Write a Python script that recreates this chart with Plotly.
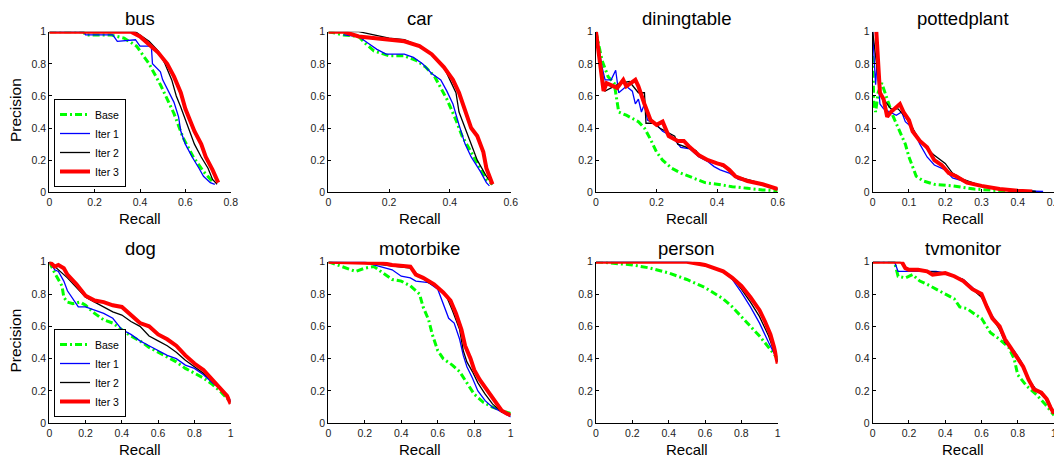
import plotly.graph_objects as go

# ---------------- data (recall, precision) points ----------------
classes = ["bus", "car", "diningtable", "pottedplant", "dog", "motorbike", "person", "tvmonitor"]
series_names = ["Base", "Iter 1", "Iter 2", "Iter 3"]
x_max = [0.8, 0.6, 0.6, 0.5, 1.0, 1.0, 1.0, 1.0]
x_ticks = [
    [0, 0.2, 0.4, 0.6, 0.8],
    [0, 0.2, 0.4, 0.6],
    [0, 0.2, 0.4, 0.6],
    [0, 0.1, 0.2, 0.3, 0.4, 0.5],
    [0, 0.2, 0.4, 0.6, 0.8, 1],
    [0, 0.2, 0.4, 0.6, 0.8, 1],
    [0, 0.2, 0.4, 0.6, 0.8, 1],
    [0, 0.2, 0.4, 0.6, 0.8, 1],
]
y_ticks = [0, 0.2, 0.4, 0.6, 0.8, 1]

bus_base = [(0, 1), (0.15, 1), (0.16, 0.98), (0.27, 0.98), (0.33, 0.96), (0.385, 0.91), (0.44, 0.80),
            (0.49, 0.67), (0.55, 0.49), (0.59, 0.34), (0.635, 0.22), (0.68, 0.13), (0.72, 0.066)]
bus_iter1 = [(0, 1), (0.15, 1), (0.16, 0.98), (0.28, 0.98), (0.30, 0.94), (0.38, 0.95), (0.40, 0.91),
             (0.45, 0.91), (0.455, 0.80), (0.49, 0.75), (0.50, 0.70), (0.53, 0.62), (0.55, 0.56),
             (0.57, 0.47), (0.58, 0.38), (0.60, 0.30), (0.63, 0.22), (0.66, 0.15), (0.68, 0.10),
             (0.71, 0.06), (0.73, 0.05)]
bus_iter2 = [(0, 1), (0.38, 1), (0.40, 0.98), (0.44, 0.94), (0.48, 0.88), (0.51, 0.80), (0.54, 0.70),
             (0.56, 0.60), (0.58, 0.53), (0.60, 0.45), (0.62, 0.38), (0.64, 0.30), (0.67, 0.22),
             (0.70, 0.15), (0.72, 0.08), (0.74, 0.05)]
bus_iter3 = [(0, 1), (0.36, 1), (0.40, 0.97), (0.44, 0.92), (0.48, 0.87), (0.52, 0.80), (0.55, 0.72),
             (0.58, 0.62), (0.60, 0.52), (0.62, 0.45), (0.64, 0.38), (0.67, 0.30), (0.69, 0.22),
             (0.72, 0.14), (0.745, 0.06)]

car_base = [(0, 1), (0.05, 0.98), (0.10, 0.97), (0.12, 0.93), (0.15, 0.88), (0.20, 0.85), (0.25, 0.85),
            (0.29, 0.82), (0.32, 0.78), (0.35, 0.72), (0.37, 0.65), (0.39, 0.58), (0.42, 0.45),
            (0.44, 0.35), (0.47, 0.25), (0.50, 0.15), (0.52, 0.08), (0.54, 0.05)]
car_iter1 = [(0.05, 0.98), (0.10, 0.97), (0.13, 0.93), (0.16, 0.89), (0.19, 0.86), (0.25, 0.86),
             (0.28, 0.84), (0.31, 0.80), (0.34, 0.74), (0.37, 0.70), (0.39, 0.63), (0.41, 0.55),
             (0.43, 0.42), (0.45, 0.30), (0.47, 0.22), (0.50, 0.13), (0.52, 0.06), (0.53, 0.04)]
car_iter2 = [(0, 1), (0.10, 1), (0.15, 0.98), (0.20, 0.96), (0.25, 0.95), (0.30, 0.91), (0.34, 0.86),
             (0.38, 0.78), (0.40, 0.70), (0.42, 0.62), (0.43, 0.50), (0.45, 0.40), (0.47, 0.30),
             (0.49, 0.20), (0.52, 0.10), (0.54, 0.05)]
car_iter3 = [(0, 1), (0.05, 1), (0.10, 0.97), (0.20, 0.95), (0.25, 0.94), (0.30, 0.91), (0.34, 0.86),
             (0.38, 0.78), (0.41, 0.70), (0.43, 0.62), (0.44, 0.56), (0.45, 0.50), (0.47, 0.40),
             (0.49, 0.35), (0.51, 0.25), (0.52, 0.15), (0.54, 0.05)]

diningtable_base = [(0, 1), (0.02, 0.82), (0.04, 0.72), (0.06, 0.68), (0.075, 0.50), (0.10, 0.48),
                    (0.14, 0.44), (0.16, 0.40), (0.18, 0.33), (0.20, 0.25), (0.22, 0.20), (0.25, 0.15),
                    (0.28, 0.12), (0.32, 0.09), (0.36, 0.06), (0.40, 0.05), (0.45, 0.035),
                    (0.50, 0.025), (0.55, 0.015), (0.60, 0.01)]
diningtable_iter1 = [(0, 1), (0.02, 0.78), (0.03, 0.70), (0.05, 0.70), (0.065, 0.76), (0.075, 0.62),
                     (0.10, 0.66), (0.12, 0.63), (0.13, 0.55), (0.14, 0.58), (0.15, 0.50), (0.16, 0.55),
                     (0.17, 0.45), (0.20, 0.42), (0.22, 0.38), (0.25, 0.35), (0.28, 0.28), (0.31, 0.27),
                     (0.34, 0.22), (0.37, 0.19), (0.39, 0.16), (0.41, 0.14), (0.44, 0.12), (0.47, 0.08),
                     (0.52, 0.06), (0.60, 0.02)]
diningtable_iter2 = [(0, 1), (0.02, 0.75), (0.03, 0.63), (0.05, 0.65), (0.08, 0.68), (0.11, 0.69),
                     (0.14, 0.62), (0.16, 0.62), (0.165, 0.43), (0.19, 0.43), (0.21, 0.40), (0.23, 0.38),
                     (0.26, 0.35), (0.27, 0.30), (0.30, 0.28), (0.33, 0.26), (0.34, 0.23), (0.37, 0.20),
                     (0.40, 0.18), (0.43, 0.15), (0.46, 0.10), (0.52, 0.07), (0.60, 0.02)]
diningtable_iter3 = [(0, 1), (0.025, 0.63), (0.035, 0.68), (0.07, 0.65), (0.09, 0.70), (0.10, 0.66),
                     (0.13, 0.70), (0.14, 0.66), (0.16, 0.55), (0.18, 0.45), (0.20, 0.42), (0.22, 0.44),
                     (0.24, 0.35), (0.27, 0.32), (0.29, 0.32), (0.31, 0.28), (0.34, 0.23), (0.37, 0.20),
                     (0.40, 0.18), (0.42, 0.17), (0.44, 0.14), (0.46, 0.10), (0.50, 0.07), (0.55, 0.05),
                     (0.60, 0.02)]

pottedplant_base = [(0, 0.85), (0.003, 0.55), (0.008, 0.50), (0.015, 0.62), (0.025, 0.68), (0.03, 0.65),
                    (0.04, 0.58), (0.055, 0.48), (0.07, 0.40), (0.09, 0.30), (0.10, 0.22), (0.11, 0.16),
                    (0.12, 0.10), (0.14, 0.07), (0.17, 0.05), (0.22, 0.04), (0.28, 0.02), (0.35, 0.01),
                    (0.45, 0.0)]
pottedplant_iter1 = [(0, 1), (0.008, 0.67), (0.012, 0.80), (0.02, 0.55), (0.03, 0.52), (0.05, 0.50),
                     (0.065, 0.48), (0.08, 0.50), (0.09, 0.44), (0.11, 0.40), (0.13, 0.30), (0.15, 0.22),
                     (0.17, 0.17), (0.20, 0.14), (0.22, 0.09), (0.25, 0.07), (0.30, 0.04), (0.35, 0.02),
                     (0.40, 0.01), (0.47, 0.005)]
pottedplant_iter2 = [(0, 1), (0.01, 0.80), (0.02, 0.62), (0.03, 0.58), (0.05, 0.52), (0.07, 0.52),
                     (0.09, 0.47), (0.11, 0.40), (0.13, 0.32), (0.15, 0.27), (0.17, 0.23), (0.20, 0.18),
                     (0.22, 0.12), (0.25, 0.08), (0.30, 0.04), (0.35, 0.02), (0.45, 0.005)]
pottedplant_iter3 = [(0.01, 1.0), (0.02, 0.62), (0.03, 0.58), (0.04, 0.47), (0.05, 0.50), (0.065, 0.53),
                     (0.075, 0.55), (0.085, 0.50), (0.10, 0.45), (0.11, 0.38), (0.13, 0.32), (0.15, 0.28),
                     (0.17, 0.20), (0.19, 0.17), (0.21, 0.12), (0.23, 0.10), (0.26, 0.06), (0.30, 0.04),
                     (0.35, 0.02), (0.40, 0.01), (0.44, 0.005)]

dog_base = [(0, 1), (0.03, 0.93), (0.07, 0.85), (0.08, 0.78), (0.10, 0.75), (0.13, 0.74), (0.17, 0.75),
            (0.20, 0.73), (0.25, 0.68), (0.30, 0.64), (0.35, 0.62), (0.40, 0.58), (0.45, 0.54),
            (0.50, 0.51), (0.55, 0.47), (0.60, 0.44), (0.65, 0.41), (0.70, 0.38), (0.75, 0.34),
            (0.80, 0.31), (0.85, 0.28), (0.90, 0.24), (0.95, 0.19), (1.0, 0.13)]
dog_iter1 = [(0, 1), (0.03, 0.95), (0.05, 0.94), (0.08, 0.88), (0.10, 0.82), (0.13, 0.77), (0.16, 0.72),
             (0.20, 0.72), (0.25, 0.70), (0.30, 0.68), (0.35, 0.65), (0.40, 0.58), (0.45, 0.55),
             (0.50, 0.51), (0.55, 0.48), (0.60, 0.45), (0.65, 0.42), (0.70, 0.40), (0.75, 0.36),
             (0.80, 0.34), (0.85, 0.30), (0.90, 0.25), (0.95, 0.21), (1.0, 0.14)]
dog_iter2 = [(0, 1), (0.05, 0.95), (0.10, 0.90), (0.15, 0.84), (0.20, 0.78), (0.25, 0.75), (0.30, 0.72),
             (0.35, 0.69), (0.40, 0.67), (0.45, 0.63), (0.50, 0.60), (0.55, 0.54), (0.60, 0.51),
             (0.65, 0.48), (0.70, 0.44), (0.75, 0.39), (0.80, 0.35), (0.85, 0.31), (0.90, 0.26),
             (0.95, 0.21), (1.0, 0.13)]
dog_iter3 = [(0, 1), (0.03, 0.97), (0.05, 0.98), (0.08, 0.96), (0.10, 0.92), (0.15, 0.86), (0.20, 0.79),
             (0.25, 0.76), (0.30, 0.75), (0.35, 0.73), (0.40, 0.72), (0.45, 0.67), (0.50, 0.62),
             (0.55, 0.60), (0.60, 0.55), (0.65, 0.52), (0.70, 0.48), (0.75, 0.42), (0.80, 0.37),
             (0.85, 0.33), (0.90, 0.27), (0.95, 0.21), (0.98, 0.17), (1.0, 0.12)]

motorbike_base = [(0, 1), (0.05, 0.98), (0.10, 0.96), (0.15, 0.94), (0.20, 0.96), (0.25, 0.97),
                  (0.30, 0.93), (0.35, 0.89), (0.40, 0.88), (0.45, 0.85), (0.50, 0.80), (0.52, 0.72),
                  (0.55, 0.64), (0.57, 0.55), (0.60, 0.45), (0.63, 0.40), (0.68, 0.36), (0.72, 0.32),
                  (0.76, 0.25), (0.80, 0.18), (0.85, 0.13), (0.90, 0.10), (0.95, 0.08), (1.0, 0.06)]
motorbike_iter1 = [(0, 1), (0.20, 1.0), (0.25, 0.98), (0.35, 0.95), (0.40, 0.91), (0.45, 0.90),
                   (0.48, 0.88), (0.55, 0.87), (0.60, 0.83), (0.62, 0.77), (0.66, 0.65), (0.69, 0.62),
                   (0.72, 0.52), (0.74, 0.42), (0.76, 0.35), (0.79, 0.28), (0.82, 0.20), (0.86, 0.14),
                   (0.90, 0.10), (0.95, 0.07), (1.0, 0.04)]
motorbike_iter2 = [(0, 1), (0.20, 0.99), (0.30, 0.98), (0.45, 0.96), (0.50, 0.91), (0.55, 0.87),
                   (0.60, 0.84), (0.65, 0.78), (0.68, 0.70), (0.72, 0.58), (0.74, 0.45), (0.76, 0.38),
                   (0.79, 0.32), (0.82, 0.25), (0.86, 0.18), (0.90, 0.12), (0.95, 0.07), (1.0, 0.05)]
motorbike_iter3 = [(0, 1), (0.30, 0.99), (0.35, 0.98), (0.45, 0.97), (0.48, 0.92), (0.52, 0.90),
                   (0.58, 0.86), (0.63, 0.81), (0.67, 0.76), (0.70, 0.68), (0.73, 0.58), (0.75, 0.48),
                   (0.78, 0.40), (0.80, 0.33), (0.83, 0.27), (0.86, 0.22), (0.89, 0.17), (0.92, 0.12),
                   (0.95, 0.08), (0.98, 0.06), (1.0, 0.05)]

person_base = [(0, 1), (0.10, 0.99), (0.20, 0.98), (0.30, 0.96), (0.40, 0.93), (0.50, 0.89),
               (0.60, 0.84), (0.70, 0.77), (0.75, 0.72), (0.80, 0.66), (0.85, 0.60), (0.90, 0.54),
               (0.95, 0.47), (1.0, 0.40)]
person_iter1 = [(0, 1), (0.50, 1.0), (0.60, 0.98), (0.70, 0.94), (0.75, 0.89), (0.80, 0.81),
                (0.85, 0.72), (0.90, 0.62), (0.95, 0.50), (1.0, 0.39)]
person_iter2 = [(0, 1), (0.50, 1.0), (0.60, 0.98), (0.70, 0.94), (0.75, 0.90), (0.80, 0.83),
                (0.85, 0.75), (0.90, 0.66), (0.95, 0.54), (1.0, 0.38)]
person_iter3 = [(0, 1), (0.50, 1.0), (0.60, 0.98), (0.65, 0.96), (0.70, 0.94), (0.75, 0.90),
                (0.80, 0.85), (0.85, 0.78), (0.90, 0.70), (0.93, 0.63), (0.96, 0.55), (0.98, 0.47),
                (0.99, 0.42), (1.0, 0.37)]

tvmonitor_base = [(0, 1), (0.12, 1.0), (0.14, 0.91), (0.18, 0.90), (0.22, 0.92), (0.26, 0.88),
                  (0.30, 0.86), (0.35, 0.83), (0.40, 0.80), (0.45, 0.77), (0.48, 0.72), (0.52, 0.71),
                  (0.57, 0.67), (0.60, 0.65), (0.65, 0.56), (0.70, 0.52), (0.75, 0.47), (0.78, 0.40),
                  (0.80, 0.30), (0.85, 0.23), (0.90, 0.18), (0.95, 0.12), (1.0, 0.05)]
tvmonitor_iter1 = [(0, 1), (0.12, 1.0), (0.14, 0.94), (0.20, 0.94), (0.30, 0.94), (0.35, 0.94),
                   (0.40, 0.93), (0.50, 0.89), (0.55, 0.84), (0.60, 0.79), (0.65, 0.68), (0.70, 0.60),
                   (0.73, 0.50), (0.78, 0.45), (0.82, 0.38), (0.86, 0.27), (0.90, 0.21), (0.95, 0.16),
                   (1.0, 0.06)]
tvmonitor_iter2 = [(0, 1), (0.15, 1.0), (0.18, 0.96), (0.30, 0.94), (0.40, 0.93), (0.50, 0.89),
                   (0.55, 0.83), (0.60, 0.78), (0.65, 0.67), (0.70, 0.58), (0.73, 0.50), (0.78, 0.44),
                   (0.82, 0.37), (0.86, 0.27), (0.90, 0.21), (0.95, 0.16), (1.0, 0.06)]
tvmonitor_iter3 = [(0, 1), (0.16, 1.0), (0.18, 0.96), (0.20, 0.95), (0.25, 0.95), (0.30, 0.94),
                   (0.33, 0.92), (0.40, 0.93), (0.45, 0.91), (0.50, 0.88), (0.55, 0.83), (0.60, 0.80),
                   (0.63, 0.72), (0.66, 0.65), (0.70, 0.60), (0.73, 0.52), (0.76, 0.47), (0.80, 0.40),
                   (0.83, 0.35), (0.86, 0.27), (0.89, 0.21), (0.93, 0.19), (0.96, 0.15), (0.98, 0.10),
                   (1.0, 0.06)]

curves = {
    "bus": [bus_base, bus_iter1, bus_iter2, bus_iter3],
    "car": [car_base, car_iter1, car_iter2, car_iter3],
    "diningtable": [diningtable_base, diningtable_iter1, diningtable_iter2, diningtable_iter3],
    "pottedplant": [pottedplant_base, pottedplant_iter1, pottedplant_iter2, pottedplant_iter3],
    "dog": [dog_base, dog_iter1, dog_iter2, dog_iter3],
    "motorbike": [motorbike_base, motorbike_iter1, motorbike_iter2, motorbike_iter3],
    "person": [person_base, person_iter1, person_iter2, person_iter3],
    "tvmonitor": [tvmonitor_base, tvmonitor_iter1, tvmonitor_iter2, tvmonitor_iter3],
}

# ---------------- styling ----------------
# the page body adds an 8px margin, so the figure is 8px smaller and all
# pixel positions below are measured in window pixels, then converted
OFF = 8
W, H = 1062 - OFF, 460 - OFF
FONT = "Liberation Sans, Arial, Helvetica, sans-serif"
styles = [
    dict(color="#00ff00", width=3, dash="7px,3px,2px,3px"),
    dict(color="#0000ff", width=1.3, dash="solid"),
    dict(color="#000000", width=1.3, dash="solid"),
    dict(color="#ff0000", width=4, dash="solid"),
]
col_px = [(49.3, 230.7), (328.3, 510.7), (596.0, 777.7), (872.7, 1054.0)]
row_px = [(31.7, 192.3), (261.7, 423.3)]


def px_x(v):
    return (v - OFF) / W


def px_y(v):
    return 1 - (v - OFF) / H


fig = go.Figure()
annotations = []
for i, cls in enumerate(classes):
    r, c = divmod(i, 4)
    n = i + 1
    xa = "x" if n == 1 else f"x{n}"
    ya = "y" if n == 1 else f"y{n}"
    legend_id = None
    if cls == "bus":
        legend_id = "legend"
    elif cls == "dog":
        legend_id = "legend2"
    for s, pts in enumerate(curves[cls]):
        xs = [p[0] for p in pts]
        ys = [p[1] for p in pts]
        kw = dict(x=xs, y=ys, xaxis=xa, yaxis=ya, mode="lines", name=series_names[s],
                  line=styles[s], hoverinfo="skip")
        if legend_id:
            kw["showlegend"] = True
            kw["legend"] = legend_id
        else:
            kw["showlegend"] = False
        fig.add_trace(go.Scatter(**kw))

    x0, x1 = col_px[c]
    y0, y1 = row_px[r]
    axis_common = dict(showline=True, linecolor="black", linewidth=1, ticks="inside", ticklen=3,
                       tickcolor="black", showgrid=False, zeroline=False, automargin=False,
                       tickfont=dict(family=FONT, size=10.5, color="#222222"), fixedrange=True)
    fig.layout[f"xaxis{'' if n == 1 else n}"] = dict(
        domain=[px_x(x0), px_x(x1)], anchor=ya, range=[0, x_max[i]], tickvals=x_ticks[i],
        ticktext=[f"{t:g}" for t in x_ticks[i]], **axis_common)
    fig.layout[f"yaxis{'' if n == 1 else n}"] = dict(
        domain=[px_y(y1), px_y(y0)], anchor=xa, range=[0, 1], tickvals=y_ticks,
        ticktext=[f"{t:g}" for t in y_ticks], **axis_common)

    cx = px_x((x0 + x1) / 2)
    annotations.append(dict(text=cls, x=cx, y=px_y(y0 - 13.5), xref="paper", yref="paper",
                            showarrow=False, font=dict(family=FONT, size=18.5, color="black"),
                            xanchor="center", yanchor="middle"))
    annotations.append(dict(text="Recall", x=cx, y=px_y(y1 + 26), xref="paper", yref="paper",
                            showarrow=False, font=dict(family=FONT, size=15, color="black"),
                            xanchor="center", yanchor="middle"))
    if c == 0:
        annotations.append(dict(text="Precision", x=px_x(15), y=px_y((y0 + y1) / 2 - 2),
                                xref="paper", yref="paper", textangle=-90, showarrow=False,
                                font=dict(family=FONT, size=15.5, color="black"),
                                xanchor="center", yanchor="middle"))

legend_common = dict(bgcolor="white", bordercolor="black", borderwidth=1,
                     font=dict(family=FONT, size=10.5, color="black"),
                     xanchor="left", yanchor="bottom", tracegroupgap=0, itemwidth=30)
fig.update_layout(
    width=W, height=H, margin=dict(l=0, r=0, t=0, b=0, autoexpand=False),
    paper_bgcolor="white", plot_bgcolor="white",
    annotations=annotations,
    legend=dict(x=px_x(54), y=px_y(187), **legend_common),
    legend2=dict(x=px_x(54), y=px_y(417), **legend_common),
)

fig.write_html("out.html")
